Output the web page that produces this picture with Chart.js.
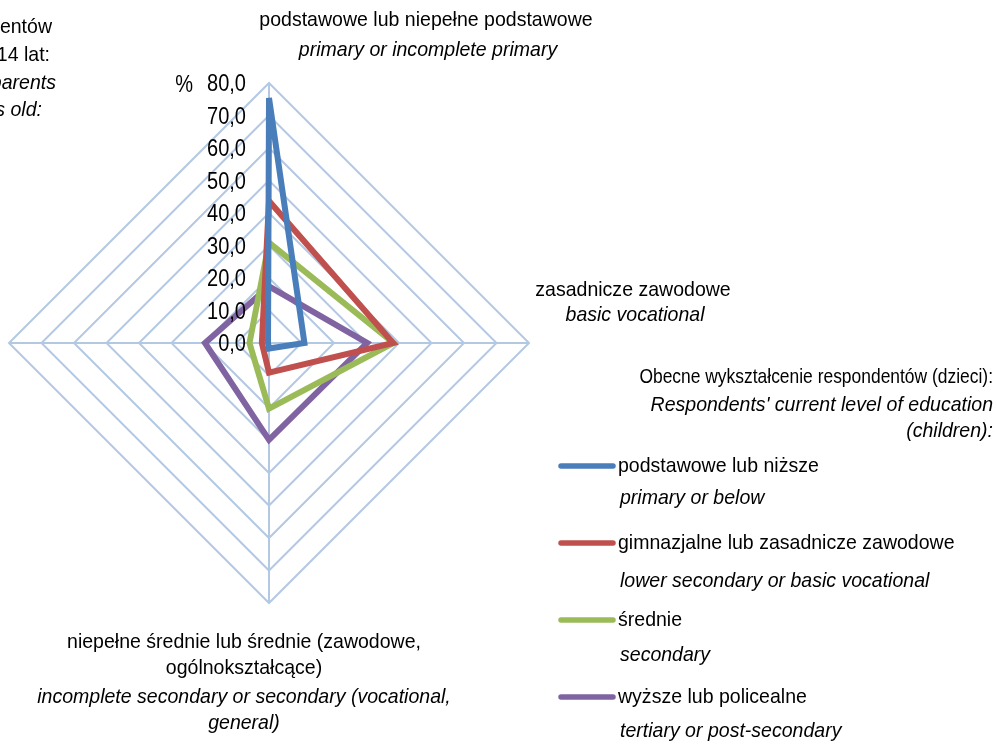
<!DOCTYPE html>
<html>
<head>
<meta charset="utf-8">
<script src="https://cdn.jsdelivr.net/npm/chart.js@4/dist/chart.umd.min.js"></script>
<style>
  html, body { margin: 0; padding: 0; background: #fff; }
  #wrap { position: relative; width: 997px; height: 745px; }
</style>
</head>
<body>
<div id="wrap"><canvas id="chart"></canvas></div>
<script>
// --- Data ---
const categoriesPl = [
    ['podstawowe lub niepełne podstawowe'],
    ['zasadnicze zawodowe'],
    ['niepełne średnie lub średnie (zawodowe,', 'ogólnokształcące)'],
    ['wyższe lub policealne']
];
const categoriesEn = [
    ['primary or incomplete primary'],
    ['basic vocational'],
    ['incomplete secondary or secondary (vocational,', 'general)'],
    ['tertiary or post-secondary']
];
const seriesPl = ['podstawowe lub niższe', 'gimnazjalne lub zasadnicze zawodowe', 'średnie', 'wyższe lub policealne'];
const seriesEn = ['primary or below', 'lower secondary or basic vocational', 'secondary', 'tertiary or post-secondary'];
const seriesColors = ['#4a7ebb', '#c0504d', '#9bbb59', '#8064a2'];

const primaryOrBelow = [75.4, 10.9, 1.7, 0.3];
const lowerSecondary = [43.7, 38.2, 9.1, 2.2];
const secondary = [30.9, 38.3, 20.2, 6.0];
const tertiary = [17.4, 30.2, 29.8, 19.7];

const legendTitle = ['Obecne wykształcenie respondentów (dzieci):', "Respondents' current level of education", '(children):'];
const sideNote = ['Wykształcenie rodziców respondentów', 'gdy respondenci mieli 14 lat:', "Respondents' parents", 'when respondents were 14 years old:'];

const FONT = '"Liberation Sans", Arial, sans-serif';

function txt(ctx, s, x, y, align, italic, size, sx) {
    ctx.save();
    ctx.translate(x, y);
    ctx.scale(sx || 0.93, 1);
    ctx.font = (italic ? 'italic ' : '') + (size || 21) + 'px ' + FONT;
    ctx.fillStyle = '#000';
    ctx.textAlign = align;
    ctx.textBaseline = 'middle';
    ctx.fillText(s, 0, 0);
    ctx.restore();
}

// draws axis labels, tick values and the legend
const labelsPlugin = {
    id: 'labelsPlugin',
    afterDraw(chart) {
        const ctx = chart.ctx;
        const r = chart.scales.r;

        // tick values, left of the vertical axis
        r.ticks.forEach(t => {
            const d = r.getDistanceFromCenterForValue(t.value);
            txt(ctx, t.value.toFixed(1).replace('.', ','), r.xCenter - 23, r.yCenter - d + 2, 'right', false, 23, 0.87);
        });
        txt(ctx, '%', 193, r.yCenter - r.drawingArea + 3, 'right', false, 23, 0.87);

        // category labels
        txt(ctx, categoriesPl[0][0], 426, 20, 'center');
        txt(ctx, categoriesEn[0][0], 428, 50, 'center', true);
        txt(ctx, categoriesPl[1][0], 633, 290, 'center');
        txt(ctx, categoriesEn[1][0], 635, 315, 'center', true);
        txt(ctx, categoriesPl[2][0], 244, 642, 'center');
        txt(ctx, categoriesPl[2][1], 244, 668, 'center');
        txt(ctx, categoriesEn[2][0], 244, 697, 'center', true);
        txt(ctx, categoriesEn[2][1], 244, 723, 'center', true);

        // clipped note at top left
        txt(ctx, sideNote[0], 52, 27, 'right');
        txt(ctx, sideNote[1], 50, 55, 'right');
        txt(ctx, sideNote[2], 56, 83, 'right', true);
        txt(ctx, sideNote[3], 42, 110, 'right', true);

        // legend
        txt(ctx, legendTitle[0], 993, 377, 'right', false, 21, 0.83);
        txt(ctx, legendTitle[1], 993, 405, 'right', true);
        txt(ctx, legendTitle[2], 993, 431, 'right', true);
        const rowY = [466, 543, 620, 697];
        const subY = [498, 581, 655, 731];
        chart.data.datasets.forEach((ds, i) => {
            ctx.save();
            ctx.strokeStyle = ds.borderColor;
            ctx.lineWidth = 5.5;
            ctx.lineCap = 'round';
            ctx.beginPath();
            ctx.moveTo(561, rowY[i]);
            ctx.lineTo(613, rowY[i]);
            ctx.stroke();
            ctx.restore();
            txt(ctx, seriesPl[i], 618, rowY[i], 'left');
            txt(ctx, seriesEn[i], 620, subY[i], 'left', true);
        });
    }
};

const ctx = document.getElementById('chart').getContext('2d');
const chart = new Chart(ctx, {
    type: 'radar',
    data: {
        labels: categoriesPl.map(l => l.join(' ')),
        datasets: [
            { label: seriesPl[0], data: primaryOrBelow },
            { label: seriesPl[1], data: lowerSecondary },
            { label: seriesPl[2], data: secondary },
            { label: seriesPl[3], data: tertiary }
        ].map((ds, i) => Object.assign(ds, {
            borderColor: seriesColors[i],
            backgroundColor: 'transparent',
            borderWidth: 6,
            fill: false,
            pointRadius: 0,
            pointHoverRadius: 0,
            tension: 0,
            borderJoinStyle: 'miter'
        }))
    },
    options: {
        responsive: true,
        maintainAspectRatio: false,
        animation: false,
        layout: { padding: { left: 9, top: 83, right: 997 - 529, bottom: 745 - 603 } },
        plugins: { legend: { display: false }, tooltip: { enabled: false } },
        scales: {
            r: {
                min: 0,
                max: 80,
                ticks: { stepSize: 10, display: false },
                pointLabels: { display: false },
                grid: { color: '#b3c9e3', lineWidth: 2, circular: false },
                angleLines: { color: '#b3c9e3', lineWidth: 2 }
            }
        }
    },
    plugins: [labelsPlugin]
});
</script>
</body>
</html>
